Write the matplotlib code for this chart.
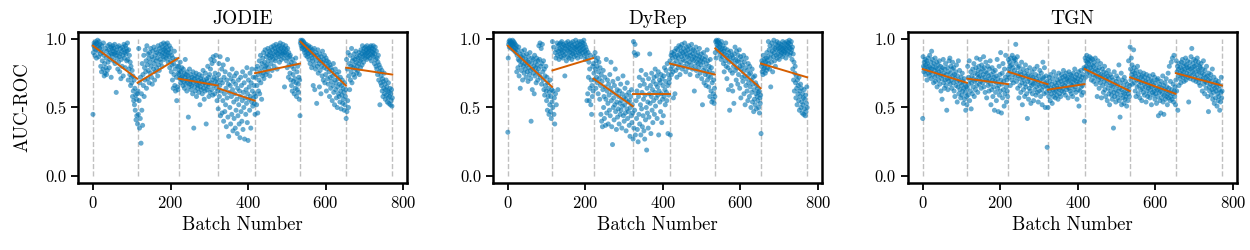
import matplotlib
matplotlib.use("Agg")
import matplotlib.pyplot as plt
import numpy as np

plt.rcParams['font.family'] = 'serif'
plt.rcParams['font.serif'] = ['cmr10']
plt.rcParams['mathtext.fontset'] = 'cm'
plt.rcParams['axes.formatter.use_mathtext'] = True

models = ["JODIE", "DyRep", "TGN"]
# batch index where each split starts (last entry = end)
seg_bounds = [0, 115, 221, 323, 418, 535, 653, 773]

# AUC-ROC per batch, in hundredths, one row block per split
jodie_auc = [
    # split 1
    45, 90, 95, 97, 93, 88, 96, 98, 92, 86, 97, 94, 99, 91, 95, 87, 98, 93, 96, 89,
    80, 92, 76, 95, 84, 90, 78, 97, 88, 73, 82, 75, 93, 79, 86, 74, 91, 77, 95, 83,
    88, 92, 79, 96, 85, 90, 94, 72, 89, 93, 87, 95, 91, 84, 93, 89, 96, 82, 90, 88,
    61, 92, 86, 94, 78, 90, 83, 95, 87, 76, 89, 93, 71, 85, 91, 80, 94, 88, 73, 92,
    96, 86, 90, 79, 95, 89, 93, 84, 91, 97, 85, 70, 92, 78, 88, 74, 83, 66, 80, 72,
    68, 77, 58, 73, 62, 55, 70, 52, 64, 48, 59, 41, 56, 44, 60,
    # split 2
    38, 62, 45, 93, 55, 35, 68, 42, 72, 24, 60, 48, 82, 37, 74, 66, 88, 58, 79, 70,
    92, 76, 84, 64, 95, 81, 71, 89, 77, 86, 68, 90, 83, 75, 93, 80, 72, 87, 67, 91,
    85, 78, 94, 82, 70, 88, 76, 92, 84, 79, 90, 86, 73, 95, 81, 89, 77, 93, 85, 91,
    83, 96, 88, 80, 94, 90, 87, 97, 92, 85, 93, 89, 96, 91, 86, 94, 88, 97, 90, 83,
    92, 87, 95, 79, 90, 84, 93, 76, 88, 81, 70, 86, 64, 82, 74, 91, 66, 78, 62, 85,
    72, 55, 80, 65, 63, 75,
    # split 3
    80, 74, 77, 71, 83, 68, 76, 72, 79, 70, 73, 66, 78, 69, 75, 64, 72, 85, 67, 74,
    70, 62, 76, 68, 73, 43, 71, 65, 78, 67, 69, 74, 63, 70, 66, 72, 60, 76, 68, 35,
    71, 65, 73, 62, 69, 75, 58, 67, 72, 64, 66, 70, 61, 74, 68, 52, 65, 71, 63, 69,
    73, 60, 67, 77, 64, 70, 56, 68, 62, 75, 66, 38, 71, 63, 69, 80, 65, 72, 58, 67,
    74, 61, 78, 85, 68, 63, 82, 70, 59, 87, 66, 72, 84, 60, 75, 69, 88, 64, 71, 55,
    68, 62,
    # split 4
    49, 74, 82, 58, 66, 87, 44, 70, 62, 78, 46, 68, 55, 81, 40, 72, 60, 47, 76, 52,
    64, 36, 70, 57, 85, 43, 67, 29, 61, 74, 50, 66, 38, 71, 58, 45, 78, 63, 33, 69,
    54, 42, 73, 60, 35, 67, 48, 75, 56, 31, 64, 44, 70, 52, 38, 62, 28, 58, 72, 47,
    66, 40, 55, 76, 34, 61, 50, 68, 27, 57, 73, 45, 63, 53, 79, 39, 60, 26, 70, 56,
    65, 48, 75, 58, 35, 68, 54, 78, 62, 51, 72, 57, 66, 53, 60,
    # split 5
    45, 72, 58, 78, 52, 66, 80, 46, 74, 62, 70, 84, 60, 76, 88, 68, 79, 56, 82, 73,
    86, 75, 90, 71, 83, 78, 92, 80, 74, 87, 81, 89, 76, 93, 84, 79, 88, 91, 73, 86,
    90, 82, 94, 87, 77, 92, 85, 89, 95, 80, 88, 93, 84, 91, 96, 86, 90, 78, 94, 89,
    92, 87, 95, 83, 91, 97, 88, 93, 85, 90, 94, 89, 96, 91, 86, 93, 65, 90, 88, 95,
    92, 84, 89, 79, 93, 86, 72, 90, 81, 87, 75, 88, 70, 83, 66, 80, 62, 85, 74, 69,
    78, 60, 82, 71, 64, 86, 68, 58, 76, 63, 80, 67, 61, 72, 56, 70, 44,
    # split 6
    97, 99, 95, 98, 93, 99, 96, 94, 98, 92, 97, 90, 95, 93, 88, 96, 91, 94, 87, 92,
    89, 95, 85, 93, 90, 82, 94, 88, 91, 79, 86, 92, 84, 66, 89, 81, 93, 63, 87, 78,
    90, 84, 53, 88, 80, 92, 75, 86, 82, 65, 89, 77, 84, 60, 87, 80, 73, 91, 83, 70,
    85, 79, 88, 68, 82, 74, 86, 62, 78, 84, 71, 80, 67, 83, 76, 58, 81, 72, 64, 79,
    69, 77, 55, 73, 66, 82, 61, 75, 52, 70, 78, 63, 68, 57, 74, 50, 65, 71, 60, 76,
    58, 67, 54, 72, 62, 49, 66, 59, 70, 53, 64, 56, 61, 48, 68, 52, 58, 63,
    # split 7
    42, 85, 47, 78, 55, 90, 50, 73, 82, 63, 88, 70, 80, 76, 93, 68, 84, 79, 86, 74,
    81, 89, 72, 85, 78, 91, 83, 75, 87, 80, 77, 86, 82, 90, 74, 88, 84, 79, 92, 85,
    89, 81, 95, 87, 91, 83, 93, 88, 90, 86, 94, 89, 92, 85, 95, 90, 87, 93, 91, 88,
    92, 86, 94, 89, 95, 84, 91, 93, 88, 90, 95, 87, 92, 82, 89, 94, 85, 80, 91, 78,
    86, 74, 83, 88, 70, 81, 76, 52, 79, 68, 73, 66, 77, 62, 71, 58, 69, 64, 75, 60,
    67, 56, 63, 70, 59, 65, 54, 62, 57, 68, 53, 61, 58, 64, 52, 60, 55, 63, 51, 57,
]

dyrep_auc = [
    # split 1
    32, 86, 96, 98, 94, 99, 97, 95, 98, 93, 97, 95, 99, 96, 92, 98, 94, 97, 91, 96,
    93, 90, 95, 76, 88, 92, 79, 85, 94, 73, 84, 89, 64, 81, 87, 77, 91, 83, 70, 86,
    80, 88, 75, 92, 82, 78, 85, 72, 89, 81, 76, 84, 69, 87, 79, 83, 74, 90, 77, 71,
    40, 82, 86, 63, 78, 85, 75, 80, 60, 88, 73, 83, 79, 68, 86, 76, 81, 70, 84, 78,
    95, 74, 85, 97, 72, 80, 93, 67, 82, 96, 76, 70, 84, 63, 78, 59, 73, 66, 80, 62,
    55, 72, 48, 68, 58, 64, 45, 61, 52, 70, 47, 58, 42, 63, 54,
    # split 2
    98, 50, 62, 94, 45, 57, 38, 90, 60, 86, 52, 92, 97, 88, 63, 95, 91, 85, 96, 89,
    93, 97, 87, 92, 98, 90, 94, 86, 96, 91, 88, 95, 73, 93, 89, 97, 84, 92, 95, 87,
    98, 91, 94, 86, 96, 90, 93, 88, 97, 92, 85, 95, 89, 98, 91, 94, 87, 96, 90, 93,
    99, 88, 94, 92, 97, 86, 95, 90, 93, 98, 89, 96, 91, 94, 87, 98, 92, 95, 90, 97,
    93, 99, 88, 96, 91, 85, 94, 89, 92, 55, 86, 60, 90, 72, 83, 55, 78, 64, 88, 52,
    70, 45, 66, 58, 80, 62,
    # split 3
    82, 75, 87, 70, 90, 78, 64, 84, 72, 80, 68, 86, 60, 76, 83, 71, 56, 79, 66, 45,
    74, 40, 69, 36, 63, 77, 50, 58, 42, 72, 65, 37, 56, 85, 46, 62, 70, 53, 38, 67,
    59, 48, 74, 44, 64, 83, 55, 36, 61, 23, 69, 50, 57, 41, 66, 52, 78, 47, 60, 34,
    54, 63, 43, 71, 49, 58, 38, 62, 53, 45, 67, 48, 55, 35, 60, 51, 73, 44, 57, 40,
    52, 64, 46, 56, 33, 59, 49, 68, 42, 54, 47, 61, 37, 55, 29, 50, 58, 44, 63, 39,
    52, 46,
    # split 4
    27, 98, 35, 90, 48, 96, 30, 88, 55, 42, 62, 34, 89, 25, 58, 45, 72, 38, 66, 52,
    30, 77, 49, 61, 36, 70, 44, 56, 33, 67, 27, 59, 41, 74, 50, 19, 64, 46, 54, 35,
    71, 43, 60, 89, 53, 66, 31, 58, 75, 48, 63, 39, 69, 55, 72, 45, 61, 78, 51, 67,
    57, 73, 42, 65, 59, 76, 30, 62, 70, 54, 68, 47, 74, 60, 39, 71, 56, 66, 44, 73,
    58, 79, 63, 52, 69, 77, 61, 55, 82, 66, 31, 74, 59, 68, 71,
    # split 5
    84, 30, 78, 88, 74, 90, 80, 86, 76, 57, 89, 82, 91, 60, 87, 77, 93, 84, 72, 88,
    92, 79, 86, 95, 81, 89, 74, 94, 83, 91, 87, 96, 78, 90, 85, 93, 80, 88, 97, 84,
    91, 76, 89, 94, 82, 87, 92, 79, 95, 86, 83, 90, 74, 88, 93, 81, 96, 85, 78, 89,
    92, 84, 87, 62, 91, 80, 86, 94, 77, 83, 88, 73, 90, 82, 85, 79, 93, 87, 75, 84,
    81, 89, 71, 86, 52, 83, 77, 90, 68, 85, 79, 74, 87, 66, 82, 76, 92, 70, 84, 73,
    65, 80, 77, 58, 85, 72, 62, 79, 54, 68, 75, 56, 60, 70, 53, 64, 58,
    # split 6
    90, 98, 86, 99, 96, 93, 98, 95, 99, 91, 97, 94, 88, 96, 92, 85, 98, 90, 93, 87,
    95, 82, 91, 76, 89, 93, 84, 97, 80, 88, 71, 92, 86, 79, 63, 90, 83, 48, 87, 77,
    91, 66, 84, 88, 75, 62, 86, 80, 53, 89, 82, 94, 77, 85, 70, 91, 79, 84, 67, 88,
    74, 83, 92, 64, 80, 87, 57, 78, 85, 72, 81, 69, 76, 88, 60, 83, 73, 52, 79, 66,
    86, 71, 62, 77, 55, 82, 68, 74, 58, 80, 65, 75, 50, 70, 61, 78, 54, 67, 72, 47,
    63, 56, 73, 52, 68, 60, 49, 66, 58, 64, 55, 61, 50, 62, 46, 57, 53, 59,
    # split 7
    31, 80, 84, 76, 82, 74, 88, 78, 85, 79, 81, 75, 83, 86, 77, 90, 84, 79, 87, 98,
    82, 92, 78, 95, 86, 65, 89, 83, 97, 91, 76, 94, 87, 99, 90, 84, 93, 80, 96, 88,
    92, 98, 86, 95, 89, 93, 97, 85, 91, 94, 88, 96, 92, 90, 95, 87, 98, 93, 91, 89,
    94, 97, 90, 93, 86, 96, 92, 98, 89, 95, 91, 97, 94, 99, 88, 93, 96, 90, 98, 92,
    85, 94, 78, 89, 70, 83, 62, 75, 80, 68, 57, 73, 64, 52, 70, 60, 66, 55, 72, 48,
    62, 58, 67, 50, 64, 54, 46, 60, 52, 57, 45, 63, 49, 56, 44, 59, 47, 53, 65, 50,
]

tgn_auc = [
    # split 1
    42, 87, 80, 76, 83, 79, 85, 74, 81, 77, 84, 70, 82, 78, 86, 75, 80, 73, 88, 79,
    76, 83, 71, 91, 78, 85, 74, 80, 68, 82, 77, 72, 86, 69, 79, 75, 83, 65, 78, 73,
    81, 70, 76, 84, 67, 74, 80, 62, 77, 71, 56, 79, 73, 85, 68, 75, 64, 78, 70, 82,
    66, 74, 48, 71, 79, 63, 76, 69, 84, 72, 86, 67, 75, 80, 70, 64, 78, 83, 73, 68,
    79, 62, 74, 58, 71, 76, 66, 81, 69, 54, 73, 65, 84, 60, 70, 77, 63, 68, 57, 72,
    66, 59, 75, 62, 69, 53, 64, 71, 56, 67, 61, 48, 65, 58, 52,
    # split 2
    64, 80, 59, 72, 67, 84, 55, 70, 62, 76, 49, 68, 73, 60, 78, 65, 71, 82, 58, 69,
    75, 63, 79, 70, 86, 66, 74, 61, 77, 72, 80, 67, 73, 85, 69, 76, 64, 81, 71, 78,
    68, 74, 87, 65, 79, 72, 61, 76, 83, 70, 57, 75, 69, 80, 66, 73, 62, 78, 71, 84,
    67, 52, 74, 63, 79, 70, 58, 76, 65, 72, 48, 69, 77, 61, 73, 55, 68, 85, 64, 71,
    47, 66, 80, 59, 74, 62, 90, 70, 46, 67, 75, 57, 82, 63, 69, 51, 78, 60, 72, 88,
    65, 54, 70, 62, 58, 74,
    # split 3
    85, 78, 72, 83, 80, 66, 86, 76, 81, 70, 88, 74, 79, 68, 84, 86, 77, 72, 85, 96,
    82, 69, 75, 87, 64, 79, 73, 57, 80, 71, 66, 76, 61, 74, 83, 68, 52, 72, 78, 63,
    70, 75, 58, 67, 81, 65, 73, 60, 77, 42, 69, 74, 56, 71, 64, 79, 62, 68, 53, 73,
    66, 76, 60, 72, 67, 55, 70, 78, 63, 68, 74, 59, 71, 65, 80, 61, 69, 54, 73, 66,
    62, 77, 70, 58, 67, 75, 63, 52, 71, 83, 65, 72, 60, 79, 68, 50, 66, 73, 61, 69,
    21, 64,
    # split 4
    50, 66, 58, 72, 62, 69, 55, 74, 64, 60, 67, 53, 71, 63, 58, 76, 65, 61, 68, 57,
    73, 62, 66, 59, 70, 64, 56, 68, 75, 63, 60, 71, 65, 58, 69, 74, 62, 67, 72, 64,
    77, 61, 70, 66, 73, 59, 68, 75, 63, 71, 65, 72, 57, 69, 76, 64, 70, 62, 74, 67,
    60, 73, 66, 71, 58, 68, 75, 63, 70, 78, 65, 72, 61, 69, 74, 56, 67, 71, 63, 76,
    51, 68, 73, 62, 70, 77, 65, 59, 72, 66, 74, 61, 69, 79, 40,
    # split 5
    78, 86, 72, 84, 80, 88, 75, 83, 79, 85, 82, 76, 87, 73, 84, 79, 86, 70, 81, 77,
    85, 74, 80, 69, 83, 76, 72, 86, 78, 67, 81, 73, 58, 77, 84, 70, 75, 64, 79, 72,
    68, 82, 74, 57, 71, 78, 66, 73, 61, 76, 69, 80, 63, 72, 58, 75, 67, 70, 55, 73,
    64, 77, 60, 71, 52, 68, 74, 62, 66, 59, 72, 56, 65, 70, 35, 61, 76, 58, 67, 63,
    54, 69, 73, 60, 66, 57, 71, 62, 81, 55, 64, 43, 68, 59, 75, 52, 63, 70, 57, 61,
    66, 53, 72, 60, 56, 69, 58, 64, 51, 62, 67, 55, 60, 84, 63, 58, 66,
    # split 6
    94, 78, 70, 86, 74, 81, 67, 76, 72, 92, 79, 68, 75, 62, 73, 58, 77, 70, 65, 80,
    71, 60, 74, 66, 69, 57, 76, 63, 72, 68, 55, 73, 64, 70, 61, 75, 67, 59, 72, 65,
    69, 54, 74, 62, 68, 58, 71, 64, 66, 60, 73, 57, 67, 63, 70, 52, 65, 69, 61, 74,
    59, 66, 62, 72, 56, 68, 60, 64, 53, 70, 63, 58, 71, 44, 65, 61, 67, 55, 62, 46,
    69, 57, 64, 60, 73, 54, 66, 45, 59, 63, 68, 56, 62, 71, 58, 65, 52, 60, 75, 57,
    64, 80, 61, 55, 69, 58, 83, 63, 56, 86, 60, 67, 54, 88, 62, 58, 65, 52,
    # split 7
    70, 84, 62, 76, 80, 48, 73, 78, 66, 82, 75, 71, 79, 68, 83, 74, 77, 85, 72, 80,
    76, 69, 82, 78, 73, 86, 70, 81, 75, 79, 84, 72, 77, 54, 80, 74, 83, 71, 78, 87,
    73, 93, 79, 76, 82, 70, 85, 75, 80, 72, 78, 84, 69, 81, 74, 86, 71, 77, 83, 68,
    76, 80, 66, 79, 73, 82, 70, 75, 62, 78, 71, 84, 67, 74, 60, 77, 69, 72, 64, 80,
    68, 73, 58, 70, 47, 75, 65, 62, 71, 67, 74, 59, 69, 63, 78, 56, 66, 61, 72, 53,
    64, 68, 57, 70, 62, 65, 51, 67, 60, 55, 69, 58, 63, 48, 66, 54, 61, 72, 57, 62,
]

# per-split trend lines (start value, end value)
jodie_trend = [(0.95, 0.71), (0.68, 0.86), (0.71, 0.66), (0.64, 0.55),
               (0.75, 0.82), (0.98, 0.66), (0.79, 0.74)]
dyrep_trend = [(0.95, 0.65), (0.77, 0.86), (0.71, 0.51), (0.60, 0.60),
               (0.82, 0.74), (0.93, 0.64), (0.82, 0.72)]
tgn_trend = [(0.78, 0.68), (0.71, 0.67), (0.76, 0.67), (0.63, 0.67),
             (0.78, 0.62), (0.72, 0.60), (0.75, 0.66)]

all_auc = [jodie_auc, dyrep_auc, tgn_auc]
all_trend = [jodie_trend, dyrep_trend, tgn_trend]

fig, axes = plt.subplots(1, 3, figsize=(12.5, 2.5), dpi=100)
fig.subplots_adjust(left=0.0624, right=0.9896, top=0.872, bottom=0.268, wspace=0.26)

for ax, name, auc, trend in zip(axes, models, all_auc, all_trend):
    y = np.array(auc) / 100.0
    x = np.arange(len(y))
    for b in seg_bounds:
        ax.vlines(b - (1 if b == seg_bounds[-1] else 0), 0, 1, colors='#c0c0c0',
                  linestyles='--', linewidth=1.0, zorder=1)
    ax.scatter(x, y, s=13, color='#0173B2', alpha=0.6, edgecolors='none', zorder=2)
    for i, (y0, y1) in enumerate(trend):
        x0 = seg_bounds[i]
        x1 = seg_bounds[i + 1] - 1
        ax.plot([x0, x1], [y0, y1], color='#D55E00', linewidth=1.4, zorder=3)
    ax.set_title(name, fontsize=14)
    ax.set_xlabel('Batch Number', fontsize=13.5)
    ax.set_ylim(-0.05, 1.05)
    ax.set_xlim(-38.6, 810.6)
    ax.set_xticks([0, 200, 400, 600, 800])
    ax.set_yticks([0.0, 0.5, 1.0])
    ax.set_yticklabels(['0.0', '0.5', '1.0'])
    ax.tick_params(labelsize=12, length=5, width=1.3)
    for s in ax.spines.values():
        s.set_linewidth(1.8)

axes[0].set_ylabel('AUC-ROC', fontsize=13.5, labelpad=10)

plt.savefig('out.png')
